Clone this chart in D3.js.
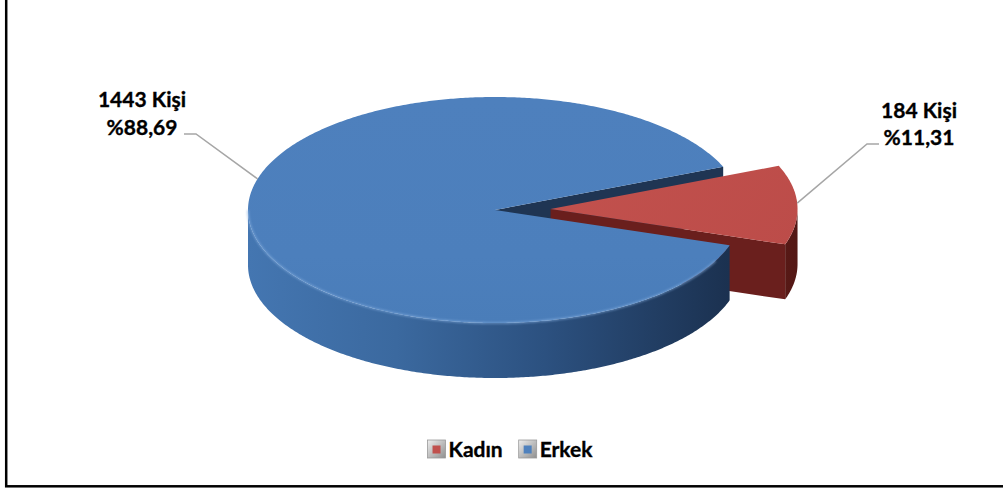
<!DOCTYPE html>
<html>
<head>
<meta charset="utf-8">
<script src="https://cdn.jsdelivr.net/npm/d3@7"></script>
<style>
  html, body { margin: 0; padding: 0; background: #fff; }
  svg { display: block; }
  text { font-family: Lato, "Open Sans", sans-serif; font-weight: bold; fill: #000; stroke: #000; stroke-width: 0.35px; }
</style>
</head>
<body>
<svg id="chart" width="1003" height="488"></svg>
<script>
// ---- data ----
const categories = ["Kadın", "Erkek"];
const values = [184, 1443];
const unitLabel = "Kişi";
const topColors = ["#c0504d", "#4f81bd"];

// ---- layout ----
const W = 1003, H = 488;
const cx = 495, cy = 210, rx = 247, ry = 113, depth = 55;
const startDeg = 67.5;            // d3.pie start angle (deg, clockwise from 12 o'clock)
const explode = [0.225, 0];       // radial explosion as fraction of radius
const leaderAngleDeg = [-3, 196]; // screen angle where each leader touches its slice rim

const svg = d3.select("#chart");
const defs = svg.append("defs");

function lg(id, x1, y1, x2, y2, stops) {
  const g = defs.append("linearGradient").attr("id", id)
    .attr("gradientUnits", "userSpaceOnUse")
    .attr("x1", x1).attr("y1", y1).attr("x2", x2).attr("y2", y2);
  stops.forEach(s => g.append("stop").attr("offset", s[0]).attr("stop-color", s[1]));
}
lg("blueSide", cx - rx, 0, cx + rx, 0, [[0, "#4476b1"], [0.3, "#3b699f"], [0.6, "#2c5180"], [0.95, "#1c3353"], [1, "#1a2f4d"]]);
lg("blueTop", 0, cy - ry, 0, cy + ry, [[0, "#4e80bd"], [0.7, "#4c7fbc"], [1, "#4a7db9"]]);
lg("redTop", cx, cy - ry, cx + rx + 60, cy + ry, [[0, "#c4534f"], [1, "#bb4b48"]]);
lg("redSide", cx + rx - 20, 0, cx + rx + 60, 0, [[0, "#6a201d"], [1, "#521714"]]);
lg("legGray", 0, 0, 1, 1, [[0, "#eeeeee"], [1, "#8f8f8f"]]);
defs.select("#legGray").attr("gradientUnits", "objectBoundingBox");
defs.append("filter").attr("id", "soft").append("feGaussianBlur").attr("stdDeviation", 0.8);

// frame
svg.append("rect").attr("x", 6.2).attr("y", -10).attr("width", 1100).attr("height", 496.3)
  .attr("fill", "none").attr("stroke", "#000").attr("stroke-width", 2.5);

const total = d3.sum(values);
const pie = d3.pie().sort(null)
  .startAngle(startDeg * Math.PI / 180)
  .endAngle(startDeg * Math.PI / 180 + 2 * Math.PI);
const arcs = pie(values).map((d, i) => {
  const a0 = d.startAngle - Math.PI / 2, a1 = d.endAngle - Math.PI / 2;
  const mid = (a0 + a1) / 2;
  const e = explode[i];
  return {
    i, a0, a1,
    ox: e * rx * Math.cos(mid),
    oy: e * ry * Math.sin(mid),
    value: d.value
  };
});

function pt(s, t, dz) {
  return [cx + s.ox + rx * Math.cos(t), cy + s.oy + ry * Math.sin(t) + (dz || 0)];
}
function arcPts(s, t0, t1, dz) {
  const n = Math.max(2, Math.ceil(Math.abs(t1 - t0) / 0.01));
  return d3.range(n + 1).map(k => pt(s, t0 + (t1 - t0) * k / n, dz));
}
const line = d3.line();
function polyPath(pts) { return line(pts) + "Z"; }

function topPath(s) {
  return polyPath([[cx + s.ox, cy + s.oy]].concat(arcPts(s, s.a0, s.a1, 0)));
}
function visibleRanges(s) {
  const out = [];
  for (let k = -1; k <= 1; k++) {
    const lo = Math.max(s.a0, 2 * Math.PI * k), hi = Math.min(s.a1, 2 * Math.PI * k + Math.PI);
    if (hi > lo) out.push([lo, hi]);
  }
  return out;
}
function sidePaths(s) {
  return visibleRanges(s).map(([lo, hi]) =>
    polyPath(arcPts(s, lo, hi, 0).concat(arcPts(s, hi, lo, depth))));
}
function wallPaths(s) {
  const out = [];
  const c0 = [cx + s.ox, cy + s.oy], c1 = [cx + s.ox, cy + s.oy + depth];
  if (Math.cos(s.a0) < 0) out.push(polyPath([c0, pt(s, s.a0, 0), pt(s, s.a0, depth), c1]));
  if (Math.cos(s.a1) > 0) out.push(polyPath([c0, pt(s, s.a1, 0), pt(s, s.a1, depth), c1]));
  return out;
}

const red = arcs[0], blue = arcs[1];
const g = svg.append("g");

// back walls first
wallPaths(blue).forEach(p => g.append("path").attr("d", p).attr("fill", "#1f3553"));
wallPaths(red).forEach(p => g.append("path").attr("d", p).attr("fill", "#6a1f1d"));
// blue slice
sidePaths(blue).forEach(p => g.append("path").attr("d", p).attr("fill", "url(#blueSide)"));
g.append("path").attr("d", topPath(blue)).attr("fill", "url(#blueTop)");
visibleRanges(blue).forEach(([lo, hi]) =>
  g.append("path").attr("d", line(arcPts(blue, lo + 0.15, hi, 0)))
    .attr("fill", "none").attr("stroke", "#86afe0").attr("stroke-width", 1.6)
    .attr("stroke-opacity", 0.75).attr("filter", "url(#soft)"));
// red slice
sidePaths(red).forEach(p => g.append("path").attr("d", p).attr("fill", "url(#redSide)"));
g.append("path").attr("d", topPath(red)).attr("fill", "url(#redTop)");

// ---- data labels with leader lines ----
const fmtPct = v => "%" + d3.format(".2f")(v).replace(".", ",");
const labelPos = [ { x: 919, y1: 118, y2: 145, hx: 879, hy: 144, dir: -1 },
                   { x: 142, y1: 107, y2: 135, hx: 184, hy: 134, dir: 1 } ];
arcs.forEach((s, i) => {
  const L = labelPos[i];
  const t = leaderAngleDeg[i] * Math.PI / 180;
  const end = pt(s, t, 0);
  const knee = [L.hx + L.dir * 12, L.hy];
  svg.append("path").attr("d", line([[L.hx, L.hy], knee, end]))
    .attr("fill", "none").attr("stroke", "#a6a6a6").attr("stroke-width", 1.5);
  svg.append("text").attr("x", L.x).attr("y", L.y1).attr("text-anchor", "middle")
    .attr("font-size", 21).text(`${values[i]} ${unitLabel}`);
  svg.append("text").attr("x", L.x).attr("y", L.y2).attr("text-anchor", "middle")
    .attr("font-size", 21).text(fmtPct(values[i] / total * 100));
});

// ---- legend ----
const leg = svg.append("g");
let lx = 0;
categories.forEach((c, i) => {
  const item = leg.append("g").attr("transform", `translate(${lx},0)`);
  item.append("rect").attr("x", 0).attr("y", -17).attr("width", 18).attr("height", 18)
    .attr("fill", "url(#legGray)").attr("stroke", "#9a9a9a").attr("stroke-width", 0.8);
  item.append("rect").attr("x", 5).attr("y", -11.5).attr("width", 8).attr("height", 8)
    .attr("fill", topColors[i]);
  const tx = item.append("text").attr("x", 21).attr("y", 0).attr("font-size", 21).text(c);
  lx += 21 + tx.node().getComputedTextLength() + 16;
});
const legW = lx - 16;
leg.attr("transform", `translate(${510 - legW / 2},457)`);
</script>
</body>
</html>
